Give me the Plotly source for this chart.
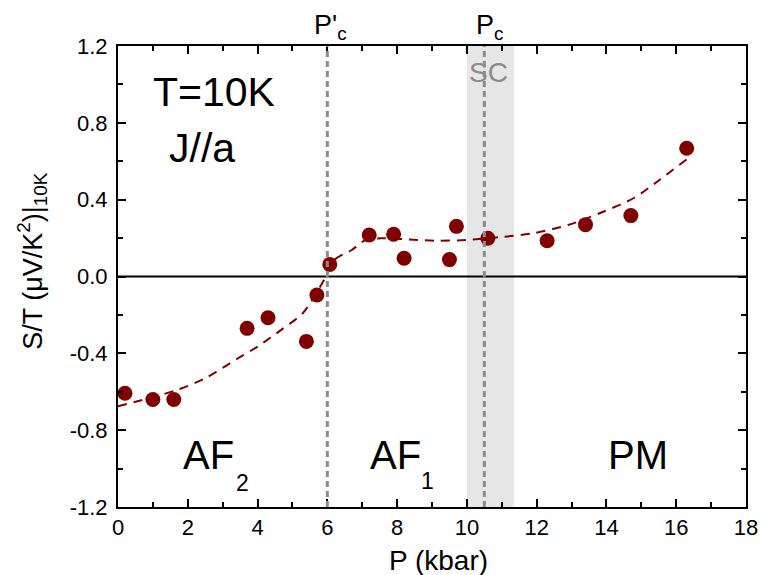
import plotly.graph_objects as go

# Measured data points
pressure = [0.2, 1.0, 1.6, 3.7, 4.3, 5.4, 5.7, 6.07, 7.2, 7.9, 8.2, 9.5, 9.7, 10.6, 12.3, 13.4, 14.7, 16.3]
s_over_t = [-0.608, -0.64, -0.64, -0.27, -0.215, -0.338, -0.096, 0.063, 0.216, 0.22, 0.095, 0.088, 0.261, 0.199, 0.186, 0.27, 0.317, 0.668]

# Dashed guide curve
fit_p = [0, 0.7, 1.7, 2.5, 3.4, 4.0, 4.7, 5.3, 5.9, 6.2, 6.7, 7.1, 7.6, 8.6, 9.1, 10.0, 10.9, 11.9, 12.9, 13.8, 14.8, 15.5, 16.3]
fit_v = [-0.675, -0.643, -0.59, -0.53, -0.43, -0.365, -0.275, -0.19, -0.02, 0.086, 0.138, 0.19, 0.199, 0.19, 0.186, 0.19, 0.204, 0.225, 0.268, 0.329, 0.41, 0.50, 0.61]

p_c_prime = 6.0
p_c = 10.5
sc_range = [10.0, 11.35]

x_ticks = [0, 2, 4, 6, 8, 10, 12, 14, 16, 18]
y_ticks = [-1.2, -0.8, -0.4, 0.0, 0.4, 0.8, 1.2]

FONT = "Arial, 'Liberation Sans', sans-serif"
RED = "#800000"
GRAY = "#8c8c8c"

fig = go.Figure()

fig.add_trace(go.Scatter(
    x=fit_p, y=fit_v, mode="lines",
    line=dict(color=RED, width=2, dash="9px,7px", shape="spline", smoothing=0.8),
    hoverinfo="skip", showlegend=False))

fig.add_trace(go.Scatter(
    x=pressure, y=s_over_t, mode="markers",
    marker=dict(color=RED, size=15, line=dict(width=0)),
    showlegend=False))

# SC shaded band
fig.add_shape(type="rect", xref="x", yref="paper", x0=sc_range[0], x1=sc_range[1], y0=0, y1=1,
              fillcolor="#e6e6e6", line=dict(width=0), layer="below")
# zero line
fig.add_shape(type="line", xref="paper", yref="y", x0=0, x1=1, y0=0, y1=0,
              line=dict(color="black", width=2), layer="below")
# critical pressure lines
for xv in [p_c_prime, p_c]:
    fig.add_shape(type="line", xref="x", yref="paper", x0=xv, x1=xv, y0=0, y1=1,
                  line=dict(color=GRAY, width=3, dash="6px,4px"), layer="above")

annots = [
    dict(x=2.75, y=0.96, text="T=10K", size=41, color="black"),
    dict(x=2.4, y=0.67, text="J//a", size=41, color="black"),
    dict(x=2.6, y=-0.93, text="AF", size=40, color="black"),
    dict(x=3.56, y=-1.075, text="2", size=23, color="black"),
    dict(x=7.94, y=-0.93, text="AF", size=40, color="black"),
    dict(x=8.88, y=-1.063, text="1", size=23, color="black"),
    dict(x=14.9, y=-0.93, text="PM", size=40, color="black"),
    dict(x=10.62, y=1.06, text="SC", size=28, color=GRAY),
]
for a in annots:
    fig.add_annotation(x=a["x"], y=a["y"], xref="x", yref="y", text=a["text"], showarrow=False,
                       font=dict(family=FONT, size=a["size"], color=a["color"]),
                       xanchor="center", yanchor="middle")

for xv, txt in [(6.1, "P'<sub>c</sub>"), (10.66, "P<sub>c</sub>")]:
    fig.add_annotation(x=xv, y=1.0, xref="x", yref="paper", text=txt, showarrow=False,
                       font=dict(family=FONT, size=27, color="black"),
                       xanchor="center", yanchor="bottom", yshift=0)

# axis titles as annotations for precise placement
fig.add_annotation(x=9.2, y=0, xref="x", yref="paper", text="P (kbar)", showarrow=False,
                   font=dict(family=FONT, size=28, color="black"),
                   xanchor="center", yanchor="top", yshift=-36)
fig.add_annotation(x=0, y=0.534, xref="paper", yref="paper", text="S/T (μV/K<sup>2</sup>)|<sub>10K</sub>",
                   showarrow=False, textangle=-90,
                   font=dict(family=FONT, size=27, color="black"),
                   xanchor="center", yanchor="middle", xshift=-86)

axis_common = dict(
    showline=True, linecolor="black", linewidth=2, mirror="allticks",
    ticks="inside", ticklen=8, tickwidth=2, tickcolor="black",
    showgrid=False, zeroline=False,
    tickfont=dict(family=FONT, size=22, color="black"),
)

fig.update_xaxes(
    range=[0, 18], tickvals=x_ticks, ticktext=[str(v) for v in x_ticks],
    minor=dict(ticks="inside", ticklen=5, tickwidth=2, tickcolor="black", dtick=1, tick0=0, showgrid=False),
    **axis_common)
fig.update_yaxes(
    range=[-1.2, 1.2], tickvals=y_ticks, ticktext=[f"{v:.1f}" for v in y_ticks],
    minor=dict(ticks="inside", ticklen=5, tickwidth=2, tickcolor="black", dtick=0.2, tick0=0, showgrid=False),
    ticklabelstandoff=4,
    **axis_common)

fig.update_layout(
    width=761, height=575,
    margin=dict(l=118, r=15, t=46, b=68, autoexpand=False),
    paper_bgcolor="white", plot_bgcolor="white",
    showlegend=False,
)

fig.write_html("out.html", config={"displayModeBar": False},
               post_script="document.body.style.margin='0';")
